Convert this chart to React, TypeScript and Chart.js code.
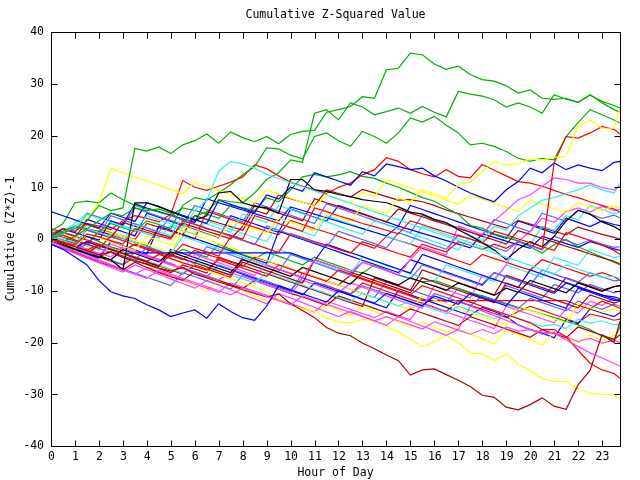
import React, { useEffect, useRef } from "react";
import { Chart, registerables } from "chart.js";

Chart.register(...registerables);

// ---- categories / ticks ----
const HOURS = [
  0, 0.5, 1, 1.5, 2, 2.5, 3, 3.5, 4, 4.5, 5, 5.5,
  6, 6.5, 7, 7.5, 8, 8.5, 9, 9.5, 10, 10.5, 11, 11.5,
  12, 12.5, 13, 13.5, 14, 14.5, 15, 15.5, 16, 16.5, 17, 17.5,
  18, 18.5, 19, 19.5, 20, 20.5, 21, 21.5, 22, 22.5, 23, 23.5,
  23.75,
];
const X_TICKS = [0, 1, 2, 3, 4, 5, 6, 7, 8, 9, 10, 11, 12, 13, 14, 15, 16, 17, 18, 19, 20, 21, 22, 23];
const Y_TICKS = [-40, -30, -20, -10, 0, 10, 20, 30, 40];
const TITLE = "Cumulative Z-Squared Value";
const X_TITLE = "Hour of Day";
const Y_TITLE = "Cumulative (Z*Z)-1";

// ---- series values (half-hour samples) ----
const GREEN_A = [0, 1.2, 2, 3.5, 6.5, 5.5, 6, 17.5, 17, 17.8, 16.5, 18.2,
  19, 20.3, 18.5, 20.7, 19.6, 18.8, 19.8, 18.4, 20.2, 20.8, 21, 24.5,
  25, 25.6, 27.5, 27.2, 32.7, 33, 35.9, 35.6, 33.8, 32.8, 33.4, 31.8,
  30.8, 30.5, 29.6, 28.2, 28.8, 27.2, 27, 27.2, 26.4, 27.8, 26.6, 25.8,
  25.3];
const GREEN_B = [0.5, 1.5, 2.5, 2, 3.5, 5, 4.5, 6, 5.5, 5.8, 5, 3.5,
  4.4, 5.2, 7.6, 7.2, 7, 8.9, 11.5, 12.8, 15.3, 14.8, 24.3, 25,
  23, 26.3, 25.5, 24, 24.6, 25.3, 24.3, 25.6, 24.5, 23.6, 28.5, 28,
  27.6, 26.9, 25.5, 26.3, 25.5, 24.3, 27.9, 27, 26.4, 27.9, 26.3, 25,
  24.5];
const GREEN_C = [0, -0.5, 0.5, 2, 1.5, 3, 2.2, 1.5, 3.5, 2.8, 2, 6.5,
  8, 7.5, 9, 10.5, 12.4, 14, 17.6, 17.4, 16.2, 15.5, 19.8, 20.5,
  19, 17.9, 20.8, 19.8, 18.5, 20.5, 23.4, 22.6, 23.7, 22, 20.5, 18.2,
  18.5, 17.9, 16.9, 15.6, 15, 15.6, 15.3, 19.8, 22.5, 25, 24, 23,
  22.4];
const GREEN_D = [1.5, 3, 7, 7.3, 7, 8.9, 7.6, 6.5, 5.8, 5.2, 4.5, 6,
  5.5, 4.8, 4, 6.5, 6, 5.5, 8, 7.2, 9.5, 12, 12.5, 12,
  12.4, 13, 12.1, 11.7, 10.8, 10, 9, 8, 7.3, 6, 4.8, 2.6,
  2.1, 1, 0.3, -0.4, -1.5, -2.7, -1.1, -0.1, -1.5, -2.5, -3.5, -4.5,
  -5];
const GREEN_E = [0, -0.8, -1.2, 0.5, -0.5, -1.5, -2.2, -1, -1.8, -2.5, -3.2, -2,
  -2.8, -3.5, -1, -2, -3, -3.8, -2.5, -3.3, -4.2, -5, -3.5, -4.4,
  -5.2, -6, -6.6, -5, -6, -7, -7.6, -8.3, -8, -8.8, -9.6, -10.4,
  -11, -11.7, -12.5, -13.2, -13.8, -14.5, -15.2, -15.9, -16.6, -17.5, -18.8, -19.5,
  -16.9];

const RED_1 = [0, -0.6, -1.2, 1, 0.4, -0.3, -1, 2, 1.3, 0.6, 0, 3.5,
  2.8, 2, 1.4, 0.7, 0, 4.5, 3.8, 3, 2.2, 1.5, 6, 5.3,
  4.5, 3.8, 3, 2.4, 1.7, 1, 3.5, 2.8, 2, 1.3, 0.6, 0,
  -0.8, 1.5, 0.8, 0, -0.7, -1.5, -2.2, 1.2, 0.5, -0.3, -1.2, -2.2,
  -3];
const RED_2 = [0, 0.8, -0.2, -1, -1.8, 0.5, -0.3, -1.2, -2, -2.8, -3.5, -1,
  -1.8, -2.5, -3.3, 0.5, -0.2, -1, -1.8, -2.6, 1, 0.3, -0.5, -1.2,
  -2, -2.7, -0.5, -1.3, -2, -2.8, -3.5, -1, -1.8, -2.5, -0.5, -1.2,
  -2, -1, -1.8, -0.5, -1.2, -2, 14.7, 19.8, 19.5, 20.5, 21.7, 21.2,
  20.3];
const RED_3 = [0, -0.7, -1.5, -2.2, -1, -2, -2.8, -3.5, -4.3, -3, -3.8, -4.6,
  -5.3, -6, -4, -4.8, -5.6, -6.4, -7.2, -5, -5.8, -6.6, -7.4, -8.2,
  -6, -6.8, -7.6, -8.4, -9.2, -10, -10.8, -9, -9.8, -10.6, -11.4, -12.2,
  -13, -13.8, -14.6, -15.4, -16.2, -17.5, -17.5, -18.9, -21.5, -24, -25.3, -26,
  -26.9];
const RED_4 = [1, 2, 1.5, 3, 2.5, 1.8, 3.5, 4.5, 4, 3.3, 4.8, 11.3,
  10, 9.4, 10.2, 11, 12, 14.3, 13.6, 12.2, 11, 10.2, 9.5, 8.8,
  10, 10.8, 12.4, 13.4, 15.7, 15, 13.4, 12.6, 12, 13.4, 12.1, 11.8,
  14.4, 13.3, 12.2, 11.1, 10.8, 10.2, 9.4, 8.6, 8, 7.2, 6.5, 5.8,
  5.2];
const RED_5 = [0, 1.2, 0.5, -0.2, -1, -1.7, -2.4, -1, -1.7, -2.5, -3.2, -4,
  -2.2, -3, -3.7, -4.5, -5.3, -3.5, -4.2, -5, -5.8, -6.6, -7.3, -8.1,
  -8.9, -7, -7.8, -8.6, -9.4, -10.2, -11, -11.9, -11.9, -11.9, -11.9, -11.9,
  -11.9, -11.9, -11.9, -11.9, -11.9, -11.9, -11.9, -11.9, -12.8, -13.5, -12, -12.9,
  -13.4];
const RED_6 = [2, 1.3, 0.6, 2.8, 2, 1.3, 0.6, -0.1, 3, 2.3, 1.5, 0.8,
  0, 5.3, 4.6, 3.8, 3, 2.3, 1.5, 0.8, 3.6, 2.8, 2, 1.3,
  0.5, -0.3, -1, -1.8, 0.5, -0.3, -1, -1.8, -2.6, -3.4, -4.2, -5,
  -3, -3.8, -4.5, -5.3, -6, -4, -4.8, -5.6, -6.4, -7.2, -6.5, -7.3,
  -8];
const RED_7 = [0, -1, -2, -2.8, -3.5, -4.3, -5, -3.5, -4.3, -5.2, -6, -6.8,
  -5, -5.8, -6.6, -7.4, -3.5, -4.3, -5.1, -5.9, -6.7, -7.5, -8.3, -9,
  -9.8, -10.6, -8.5, -9.3, -10.1, -10.9, -11.7, -12.4, -13.2, -14, -12, -12.8,
  -13.6, -14.4, -15.2, -14, -13, -13.8, -14.6, -15.4, -16.2, -14.5, -15, -15.7,
  -15.5];

const DARKRED_1 = [0, -0.8, -1.5, -2.2, -3, -2.5, -3.6, -4.3, -4.8, -5.6, -6.2, -5.5,
  -6.8, -7.5, -8.3, -9, -9.8, -10.5, -11.2, -10.6, -12.5, -13.8, -15.2, -17.1,
  -18.2, -18.7, -20.1, -21.2, -22.4, -23.5, -26.3, -25.3, -25.1, -26.2, -27.3, -28.5,
  -30.2, -30.6, -32.5, -33, -32, -30.7, -32.3, -32.9, -28.2, -25.4, -18.5, -20,
  -15.9];
const DARKRED_2 = [-0.5, -1.2, -2, -2.8, -1.2, -2, -2.8, -3.6, -4.4, -5.2, -3, -3.8,
  -4.6, -5.4, -6.2, -7, -4.5, -5.3, -6.1, -6.9, -7.7, -8.5, -4, -4.8,
  -5.6, -6.4, -7.2, -8, -8.8, -9.6, -10.4, -7.5, -8.3, -9.1, -9.9, -10.7,
  -11.5, -12.3, -8.5, -9.3, -10.1, -10.9, -11.7, -12.5, -13.3, -10.8, -11.6, -12.4,
  -12];
const DARKRED_3 = [0.5, -0.2, -0.9, 1.8, 1, 0.3, 3.2, 2.5, 1.7, 1, 0.3, 3,
  2.3, 1.5, 0.8, 0, 2.5, 6.5, 5.8, 5, 4.3, 3.5, 7.8, 7,
  6.3, 5.5, 4.8, 4, 3.3, 5.8, 5, 4.3, 3.5, 2.8, 2, 1.3,
  0.5, -0.2, -1, 1.6, 0.9, 0.1, -0.6, -1.4, -2.1, -2.9, -3.6, -4.3,
  -4.8];
const DARKRED_4 = [-0.5, -1.5, -2.5, -3.5, -4.5, -5.2, -6, -4.5, -5.5, -6.5, -7.3, -8,
  -6.3, -7.2, -8, -8.8, -9.6, -8, -8.9, -9.7, -10.5, -11.2, -12, -12.8,
  -11, -11.8, -12.6, -13.4, -14.2, -15, -13.5, -14.3, -15.1, -15.9, -16.7, -15,
  -15.8, -16.6, -17.4, -18.2, -19, -17.5, -18.3, -19.1, -17, -17.8, -18.6, -19.4,
  -18.5];
const DARKRED_5 = [0, -0.9, -1.8, -2.6, -3.4, -2.5, -3.3, -4.1, -4.9, -5.7, -6.5, -5,
  -5.8, -6.6, -3.5, -4.3, -5.1, -5.9, -6.7, -7.5, -8.3, -9.1, -9.9, -10.7,
  -11.5, -12.3, -13, -7.5, -8.3, -9.1, -9.9, -6, -6.8, -7.6, -8.4, -9.2,
  -10, -10.8, -7, -7.8, -8.6, -9.4, -10.2, -7.5, -8.3, -9.1, -9.9, -9.2,
  -9];
const DARKRED_6 = [1, 0.3, -0.4, -1.1, 1.5, 0.8, 0.1, -0.6, -1.3, 2.2, 1.5, 0.8,
  4.5, 3.8, 3.1, 2.4, 1.7, 5.5, 4.8, 8.5, 7.8, 7.1, 6.4, 9.5,
  8.8, 8.1, 9.6, 8.9, 8.2, 7.5, 7.6, 7.2, 6.5, 5.6, 4.9, 4.2,
  3.5, 2.8, 2.1, 3.6, 2.9, 2.2, 1.5, 0.8, 2.3, 1.6, 0.9, 0.3,
  0];

const BLUE_1 = [-1, -2, -3.5, -5, -8, -10.2, -11, -11.5, -12.7, -13.7, -15, -14.3,
  -13.7, -15.3, -12.5, -14, -15.2, -15.7, -13, -9, -9.8, -10.6, -11.4, -12.2,
  -10, -10.8, -11.6, -12.4, -10.5, -11.3, -12.1, -12.9, -11, -11.8, -12.6, -10.5,
  -11.3, -12.1, -12.9, -10.2, -11, -11.8, -12.6, -13.4, -9.5, -10.3, -11.1, -11.9,
  -11.7];
const BLUE_2 = [5.3, 4.5, 3.7, 2.9, 2.1, 5, 4.2, 3.4, 7, 6.2, 5.4, 4.6,
  3.8, 3, 7.5, 6.7, 5.9, 5.1, 8.5, 7.7, 10, 9.2, 12.8, 12,
  11.2, 10.4, 13, 12.2, 14.5, 14, 13.4, 13.7, 12.2, 11.2, 10, 8.9,
  8, 7.2, 9.5, 11.1, 13.7, 12.8, 14.7, 13.4, 14.3, 13.7, 13.2, 14.8,
  15];
const BLUE_3 = [0, -0.8, -1.5, -0.5, -1.3, -2, -2.8, -2.7, -2.7, -2.7, -2.7, -2.7,
  -2.7, -2.7, -2.7, -2.7, -2.7, -2.7, -2.7, -2.7, -2.7, -3.5, -4.2, -1,
  -1.8, -2.6, -3.4, -4.2, -5, -5.8, -6.6, -3, -3.8, -4.6, -5.4, -6.2,
  -7, -7.8, -8.6, -9.4, -6, -6.8, -7.6, -8.4, -9.2, -10, -10.8, -11.6,
  -12];
const BLUE_4 = [0.5, 2, 1.2, 0.5, -0.2, 3.5, 2.8, 6.8, 6, 5.3, 4.6, 3.9,
  3.2, 7.8, 7, 6.3, 5.6, 4.9, 4.2, 3.5, 6.2, 5.5, 4.8, 4.1,
  3.4, 2.7, 2, 1.3, 0.6, 2.5, 1.8, 1.1, 0.4, -0.3, -1, -1.7,
  1, 0.3, -0.4, -1.1, -1.8, 0.5, -0.2, -0.9, -1.6, -0.5, -1.2, -1.9,
  -2.2];
const BLUE_5 = [-0.5, -1.3, -2.1, -2.9, -3.7, -0.5, -1.3, -2.1, -2.9, 2.5, 1.7, 0.9,
  0.1, -0.7, -1.5, -2.3, -3.1, -3.9, -4.7, 1.5, 0.7, -0.1, -0.9, -1.7,
  -2.5, -3.3, -4.1, -4.9, -5.7, -6.5, -4, -4.8, -5.6, -6.4, -7.2, -8,
  -8.8, -6.5, -7.3, -8.1, -8.9, -9.7, -10.5, -8.5, -9.3, -10.1, -10.9, -11.2,
  -11.5];
const BLUE_6 = [0, -1, -1.8, -0.5, -1.3, -2.1, -2.9, -3.7, -4.5, -5.3, -2, -2.8,
  -3.6, -4.4, -5.2, -6, -6.8, -7.6, -8.4, -9.2, -10, -10.8, -8.5, -9.3,
  -10.1, -10.9, -11.7, -12.5, -13.3, -10, -10.8, -11.6, -12.4, -13.2, -14, -14.8,
  -13.2, -14, -15, -16.6, -17.5, -18.2, -19.1, -15.6, -16.4, -13.5, -14.3, -15,
  -14.2];
const BLUE_7 = [1.5, 0.7, -0.1, 3.8, 3, 2.2, 1.4, 0.6, 5, 4.2, 3.4, 2.6,
  1.8, 1, 0.2, 4.5, 3.7, 2.9, 2.1, 1.3, 5.8, 5, 4.2, 3.4,
  6.5, 5.7, 4.9, 4.1, 3.3, 2.5, 6.5, 5.7, 4.9, 4.1, 3.3, 2.5,
  1.7, 0.9, 0.1, 3.5, 2.7, 1.9, 1.1, 4, 3.2, 2.4, 3.5, 2.8,
  2.6];

const SLATE_1 = [0, 1, 2.5, 1.7, 0.9, 4.5, 3.7, 2.9, 2.1, 1.3, 4.5, 3.7,
  2.9, 2.1, 1.3, 0.5, -0.3, -1.1, 2.5, 1.7, 0.9, 0.1, -0.7, -1.5,
  1.5, 0.7, -0.1, -0.9, -1.7, 1.2, 0.4, -0.4, -1.2, -2, 0.8, 0,
  -0.8, -1.6, -2.4, -0.5, -1.3, -2.1, 0.5, -0.3, -1.1, -0.2, -1, -1.6,
  -1.5];
const SLATE_2 = [-0.5, -1.3, -2.1, -1, -1.8, -2.6, -3.4, -4.2, -1.5, -2.3, -3.1, -3.9,
  -4.7, -1.5, -2.3, -3.1, -3.9, -4.7, -5.5, -6.3, -3, -3.8, -4.6, -5.4,
  -6.2, -7, -4.5, -5.3, -6.1, -6.9, -7.7, -5, -5.8, -6.6, -7.4, -8.2,
  -9, -6.5, -7.3, -8.1, -8.9, -6, -6.8, -7.6, -8.4, -6.5, -7.3, -8.1,
  -8];
const SLATE_3 = [0, -0.9, -1.7, -2.5, -3.3, -4.1, -4.9, -2.5, -3.3, -4.1, -4.9, -5.7,
  -6.5, -7.3, -5, -5.8, -6.6, -7.4, -8.2, -9, -9.8, -7.5, -8.3, -9.1,
  -9.9, -10.7, -9, -9.8, -10.6, -11.4, -12.2, -13, -10.5, -11.3, -12.1, -12.9,
  -11, -11.8, -12.6, -13.4, -11.5, -12.3, -13.1, -13.9, -12, -12.8, -13.6, -12.6,
  -13];
const SLATE_4 = [0.5, 2, 1.2, 5, 4.2, 3.4, 2.6, 6, 5.2, 4.4, 3.6, 2.8,
  6.5, 5.7, 4.9, 4.1, 3.3, 7, 6.2, 5.4, 4.6, 3.8, 3, 6.8,
  6, 5.2, 4.4, 3.6, 2.8, 2, 1.2, 4.6, 3.8, 3, 2.2, 1.4,
  0.6, 3.8, 3, 2.2, 1.4, 5, 4.2, 3.4, 5.6, 4.8, 4, 4.6,
  4.1];
const SLATE_5 = [-1, -1.8, -2.6, -3.4, -4.2, -5, -5.8, -6.6, -7.4, -8.2, -9, -6.5,
  -7.3, -8.1, -8.9, -9.7, -7, -7.8, -8.6, -9.4, -10.2, -6.5, -7.3, -8.1,
  -8.9, -9.7, -10.5, -11.3, -8.2, -9, -9.8, -10.6, -11.4, -12.2, -9.5, -10.3,
  -11.1, -11.9, -9, -9.8, -10.6, -11.4, -8.8, -9.6, -10.4, -8.8, -9.6, -10.4,
  -10];

const MAGENTA_1 = [-0.5, -1.5, -2.4, -3.3, -4.2, -5.1, -6, -6.8, -7.6, -6, -6.8, -7.6,
  -8.4, -9.2, -10, -10.8, -9.5, -10.3, -11.1, -11.9, -12.7, -11, -11.8, -12.6,
  -13.4, -14.2, -15, -15.8, -15, -15.8, -16.6, -17.4, -16, -16.8, -17.6, -18.4,
  -17.5, -18.3, -17, -17.8, -17.5, -18, -18.2, -19.5, -20.8, -22, -23, -24,
  -24.6];
const MAGENTA_2 = [0, -0.8, -1.6, -2.4, -3.2, -1, -1.8, -2.6, -3.4, -4.2, -5, -5.8,
  -3, -3.8, -4.6, -5.4, -6.2, -7, -5, -5.8, -6.6, -7.4, -4, -4.8,
  -5.6, -6.4, -4.5, -5.3, -6.1, -6.9, -4, -1.5, -2.3, -3.1, 2.5, 1.7,
  0.9, 3.5, 5.5, 7.6, 8.5, 10.2, 11.8, 11.5, 10.8, 10.8, 9.9, 9.5,
  10.2];
const MAGENTA_3 = [-1, -1.9, -2.8, -3.7, -4.6, -5.5, -6.4, -5, -5.9, -6.8, -7.7, -8.6,
  -9.5, -8, -8.9, -9.8, -10.7, -11.6, -12.5, -10.5, -11.4, -12.3, -13.2, -14.1,
  -15, -14, -14.9, -15.8, -16.7, -15, -15.9, -16.8, -17.7, -18.6, -17.5, -13,
  -13.9, -14.8, -15.7, -16.6, -17.5, -18.4, -18, -18.9, -19.8, -19.2, -20.1, -19.6,
  -20];
const MAGENTA_4 = [0.5, -0.3, -1.1, -1.9, -2.7, -3.5, -1.5, -2.3, -3.1, -3.9, -4.7, -5.5,
  -6.3, -7.1, -7.9, -6.5, -7.3, -8.1, -8.9, -9.7, -10.5, -8, -8.8, -9.6,
  -10.4, -8.5, -9.3, -10.1, -11, -11.8, -12.6, -13.4, -9, -9.8, -10.6, -11.4,
  -7, -7.8, -5, -0.5, 1.5, 4, 3.2, 5.3, 6, 5.2, 6.3, 5.5,
  5.7];
const MAGENTA_5 = [0, -1, -2, -3, -4, -5, -6, -6.8, -5.5, -6.3, -7.1, -7.9,
  -8.7, -9.5, -10.3, -8.5, -9.3, -10.1, -10.9, -11.7, -12.5, -13.3, -14.1, -12,
  -12.8, -13.6, -14.4, -15.2, -14, -14.8, -15.6, -12.5, -13.3, -14.1, -14.9, -15.7,
  -16.5, -17.3, -13, -13.8, -14.6, -15.4, -16.2, -13.5, -14.3, -12, -12.8, -11.5,
  -12];

const CYAN_1 = [0, 1, 2.2, 4.8, 4, 3.2, 2.4, 1.6, 4.5, 3.7, 2.9, 2.1,
  5.5, 7.5, 13.1, 15, 14.5, 13.7, 12.5, 11.7, 10.9, 10.1, 9.3, 8.5,
  7.7, 6.9, 6.1, 5.3, 4.5, 3.7, 2.9, 2.1, 1.3, 0.5, -0.3, -1.1,
  -1.9, -2.7, -3.5, -4.3, -5.1, -5.9, -6.7, -5, -5.8, -6.6, -7.4, -7.2,
  -7.6];
const CYAN_2 = [0.5, -0.3, -1.1, 2, 1.2, 0.4, -0.4, 3, 2.2, 1.4, 0.6, 4.5,
  3.7, 2.9, 2.1, 1.3, 4.8, 4, 3.2, 6.5, 5.7, 4.9, 4.1, 3.3,
  2.5, 1.7, 0.9, 3.5, 2.7, 1.9, 1.1, 0.3, -0.5, -1.3, -2.1, 0.5,
  -0.3, 2.5, 1.7, 4.5, 6, 7.5, 8, 8.8, 9.5, 10.5, 9.5, 8.9,
  10.8];
const CYAN_3 = [-0.5, -1.3, -2.1, -2.9, -1, -1.8, -2.6, -3.4, -4.2, -5, -5.8, -6.6,
  -4.5, -5.3, -6.1, -6.9, -7.7, -8.5, -6.5, -7.3, -8.1, -8.9, -9.7, -10.5,
  -11.3, -12.1, -10.5, -11.3, -12.1, -12.9, -12, -12.8, -13.6, -14.4, -13, -13.8,
  -14.6, -15.4, -14.5, -15.3, -16.1, -16.9, -16.5, -17.3, -15.5, -16.3, -15.8, -16.6,
  -16.5];
const CYAN_4 = [1, 0.2, -0.6, -1.4, -2.2, 1, 0.2, -0.6, -1.4, -2.2, -3, 0.5,
  -0.3, -1.1, -1.9, -2.7, -3.5, -4.3, -5.1, -2, -2.8, -3.6, -4.4, -5.2,
  -6, -6.8, -3.5, -4.3, -5.1, -5.9, -6.7, -7.5, -8.3, -5, -5.8, -6.6,
  -7.4, -8.2, -5, -5.8, -6.6, -7.4, -3.5, -4.3, -5.1, -2, -2.8, -3.6,
  -3.3];
const CYAN_5 = [0, 1.5, 3, 5, 4.2, 3.4, 2.6, 1.8, 1, 0.2, 2.5, 1.7,
  0.9, 3.5, 2.7, 1.9, 1.1, 0.3, -0.5, 3, 2.2, 1.4, 0.6, 4.5,
  3.7, 2.9, 2.1, 1.3, 0.5, -0.3, -1.1, 2.5, 1.7, 0.9, 0.1, -0.7,
  -1.5, -2.3, 0.5, -0.3, -1.1, 2.5, 1.7, 4.5, 3.7, 6.5, 5.7, 4.9,
  5.2];

const YELLOW_1 = [0, -0.8, -1.6, 1, 0.2, -0.6, -1.4, -2.2, 0.5, -0.3, -1.1, 2.5,
  1.7, 0.9, 0.1, 3.5, 2.7, 1.9, 1.1, 4, 3.2, 2.4, 1.6, 5,
  4.2, 3.4, 6.5, 5.7, 4.9, 8, 7.2, 9.5, 8.7, 7.9, 10.5, 11,
  13, 15, 14.3, 14.5, 15.5, 15.3, 15.8, 16, 21.8, 23, 21.4, 21.4,
  25.3];
const YELLOW_2 = [0, 1, 2.5, 4, 7, 13.7, 12.8, 12, 11.2, 10.4, 9.6, 8.8,
  11, 10.2, 9.4, 8.6, 7.8, 7, 9.5, 8.7, 7.9, 7.1, 6.3, 8.5,
  7.7, 6.9, 9, 8.2, 11.5, 10.7, 9.9, 9.1, 8.3, 7.5, 6.7, 8.5,
  7.7, 6.9, 6.1, 5.3, 7.5, 6.7, 5.9, 5.1, 7, 6.2, 5.4, 6.5,
  6];
const YELLOW_3 = [0, -0.8, -1.6, -2.4, -1, -1.8, -2.6, -3.4, -4.2, -5, -5.8, -4.5,
  -5.3, -6.1, -6.9, -7.7, -8.5, -9.3, -10.1, -11.7, -12.7, -13.4, -14, -15.3,
  -16, -16.2, -15.5, -15.9, -16.9, -17.9, -19.4, -20.8, -19.9, -18.6, -20, -22,
  -22.2, -23.5, -22.2, -24.2, -25.4, -26.9, -27.5, -27.5, -29, -29.8, -30.1, -30.1,
  -31];
const YELLOW_4 = [1.5, 0.7, -0.1, 3, 2.2, 1.4, 0.6, -0.2, -1, -1.8, -2.6, 1.5,
  0.7, -0.1, -0.9, -1.7, -2.5, -3.3, -4.1, -4.9, -5.7, -6.5, -7.3, -8.1,
  -8.9, -9.7, -10.5, -11.3, -12.1, -12.9, -13.7, -11, -11.8, -12.6, -13.4, -14.2,
  -15, -15.8, -16.6, -13, -13.8, -14.6, -15.4, -16.2, -12.5, -13.3, -14.1, -13.5,
  -14];
const YELLOW_5 = [-0.5, -1.5, -2.5, -3.5, -4.5, -2, -3, -4, -5, -6, -7, -8,
  -9, -10, -8, -9, -10, -11, -12, -11.5, -12.5, -13.5, -14, -12.8,
  -13.8, -14.8, -13, -14, -15, -16, -17, -16, -17, -18, -17.3, -18.3,
  -19.3, -20.3, -17.5, -18.5, -19.5, -20.5, -18, -19, -20, -18.6, -19.6, -18.6,
  -19];

const BLACK_1 = [0, -1, -2, -2.8, -3.5, -4, -5.9, 7, 7, 6.3, 5.3, 4.4,
  3.6, 4.5, 8.9, 9.2, 7, 6.3, 6, 5, 11.5, 11.5, 9.5, 9.2,
  8.6, 8.2, 7.6, 7.3, 7, 6.2, 5.2, 4.8, 3.8, 3.2, 1.8, 0.6,
  -0.7, -2.1, -4, -2, -0.5, -1.5, 0.5, 3.5, 5.5, 4.8, 3.3, 2.4,
  1.7];
const BLACK_2 = [0, -0.8, -1.6, -2.4, -3.2, -4, -2, -2.8, -3.6, -4.4, -2.5, -3.3,
  -4.1, -4.9, -5.7, -6.5, -4, -4.8, -5.6, -6.4, -7.2, -5.5, -6.3, -7.1,
  -7.9, -8.7, -6.5, -7.3, -8.1, -8.9, -7.5, -8.3, -9.1, -9.9, -8.5, -9.3,
  -10.1, -10.9, -9.5, -10.3, -8, -8.8, -9.6, -10.4, -8.5, -9.3, -10.1, -9.2,
  -9];

// ---- styles (kept apart from the data) ----
const RED = "#ff0000";
const GREEN = "#00b000";
const BLUE = "#0000ff";
const MAGENTA = "#ff40ff";
const CYAN = "#30f0f0";
const DARKRED = "#b00000";
const YELLOW = "#ffff00";
const BLACK = "#000000";
const SLATE = "#6060ff";

const SERIES: [string, number[], string][] = [
  ["r1", RED_1, RED], ["gA", GREEN_A, GREEN], ["b1", BLUE_1, BLUE], ["m1", MAGENTA_1, MAGENTA],
  ["c1", CYAN_1, CYAN], ["dr1", DARKRED_1, DARKRED], ["y1", YELLOW_1, YELLOW], ["k1", BLACK_1, BLACK], ["s1", SLATE_1, SLATE],
  ["r2", RED_2, RED], ["gB", GREEN_B, GREEN], ["b2", BLUE_2, BLUE], ["m2", MAGENTA_2, MAGENTA],
  ["c2", CYAN_2, CYAN], ["dr2", DARKRED_2, DARKRED], ["y2", YELLOW_2, YELLOW], ["k2", BLACK_2, BLACK], ["s2", SLATE_2, SLATE],
  ["r3", RED_3, RED], ["gC", GREEN_C, GREEN], ["b3", BLUE_3, BLUE], ["m3", MAGENTA_3, MAGENTA],
  ["c3", CYAN_3, CYAN], ["dr3", DARKRED_3, DARKRED], ["y3", YELLOW_3, YELLOW], ["s3", SLATE_3, SLATE],
  ["r4", RED_4, RED], ["gD", GREEN_D, GREEN], ["b4", BLUE_4, BLUE], ["m4", MAGENTA_4, MAGENTA],
  ["c4", CYAN_4, CYAN], ["dr4", DARKRED_4, DARKRED], ["y4", YELLOW_4, YELLOW], ["s4", SLATE_4, SLATE],
  ["r5", RED_5, RED], ["gE", GREEN_E, GREEN], ["b5", BLUE_5, BLUE], ["m5", MAGENTA_5, MAGENTA],
  ["c5", CYAN_5, CYAN], ["dr5", DARKRED_5, DARKRED], ["y5", YELLOW_5, YELLOW], ["s5", SLATE_5, SLATE],
  ["r6", RED_6, RED], ["b6", BLUE_6, BLUE], ["dr6", DARKRED_6, DARKRED],
  ["r7", RED_7, RED], ["b7", BLUE_7, BLUE],
];

const FONT = "11.5px 'DejaVu Sans Mono', monospace";
const TICK_LEN = 6;

const framePlugin = {
  id: "gnuFrame",
  afterDatasetsDraw(chart: any) {
    const { ctx, chartArea: a, scales } = chart;
    const xs = scales.x;
    const ys = scales.y;
    ctx.save();
    ctx.strokeStyle = "#000";
    ctx.lineWidth = 1;
    const L = Math.round(a.left) + 0.5;
    const R = Math.round(a.right) + 0.5;
    const T = Math.round(a.top) + 0.5;
    const B = Math.round(a.bottom) + 0.5;
    ctx.strokeRect(L, T, R - L, B - T);
    ctx.beginPath();
    X_TICKS.forEach((v) => {
      const x = Math.round(xs.getPixelForValue(v)) + 0.5;
      ctx.moveTo(x, B);
      ctx.lineTo(x, B - TICK_LEN);
      ctx.moveTo(x, T);
      ctx.lineTo(x, T + TICK_LEN);
    });
    Y_TICKS.forEach((v) => {
      const y = Math.round(ys.getPixelForValue(v)) + 0.5;
      ctx.moveTo(L, y);
      ctx.lineTo(L + TICK_LEN, y);
      ctx.moveTo(R, y);
      ctx.lineTo(R - TICK_LEN, y);
    });
    ctx.stroke();

    ctx.fillStyle = "#000";
    ctx.font = FONT;
    ctx.textBaseline = "middle";
    ctx.textAlign = "right";
    Y_TICKS.forEach((v) => {
      ctx.fillText(String(v), a.left - 7, ys.getPixelForValue(v) + 0.5);
    });
    ctx.textAlign = "center";
    X_TICKS.forEach((v) => {
      ctx.fillText(String(v), xs.getPixelForValue(v) + 0.5, a.bottom + 11.5);
    });
    const cx = (a.left + a.right) / 2;
    ctx.fillText(TITLE, cx, 15.5);
    ctx.fillText(X_TITLE, cx, 473.5);
    ctx.save();
    ctx.translate(11.5, (a.top + a.bottom) / 2);
    ctx.rotate(-Math.PI / 2);
    ctx.fillText(Y_TITLE, 0, 0);
    ctx.restore();

    const bad = SERIES.filter((s) => s[1].length !== HOURS.length).map((s) => s[0]);
    if (bad.length) {
      ctx.fillStyle = "#f00";
      ctx.textAlign = "left";
      ctx.fillText("LEN " + bad.join(","), 60, 40);
    }
    ctx.restore();
  },
};

export default function App() {
  const ref = useRef<HTMLCanvasElement | null>(null);
  useEffect(() => {
    if (!ref.current) return;
    const datasets = SERIES.map(([name, vals, color]) => ({
      label: name,
      data: HOURS.map((h, i) => ({ x: h, y: vals[i] })),
      borderColor: color,
      backgroundColor: color,
      borderWidth: 1.2,
      pointRadius: 0,
      tension: 0,
      fill: false,
    }));
    const chart = new Chart(ref.current, {
      type: "line",
      data: { datasets },
      options: {
        animation: false,
        responsive: false,
        maintainAspectRatio: false,
        devicePixelRatio: 1,
        events: [],
        layout: { padding: { left: 51, top: 32, right: 20, bottom: 34 } },
        plugins: {
          legend: { display: false },
          title: { display: false },
          tooltip: { enabled: false },
        },
        scales: {
          x: { type: "linear", min: 0, max: 23.75, display: false },
          y: { type: "linear", min: -40, max: 40, display: false },
        },
      },
      plugins: [framePlugin],
    } as any);
    return () => chart.destroy();
  }, []);
  return (
    <div style={{ position: "fixed", left: 0, top: 0, width: 640, height: 480, background: "#fff" }}>
      <canvas ref={ref} width={640} height={480} style={{ display: "block" }} />
    </div>
  );
}
